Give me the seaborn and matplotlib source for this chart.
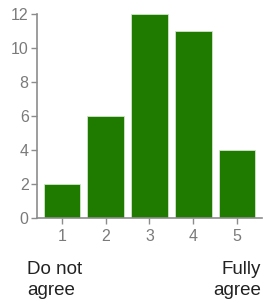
import matplotlib
matplotlib.use('Agg')
import matplotlib.pyplot as plt
import seaborn as sns
import pandas as pd

# answers on a 1-5 agreement scale
ratings = ['1', '2', '3', '4', '5']
counts = [2, 6, 12, 11, 4]
y_ticks = [0, 2, 4, 6, 8, 10, 12]
low_label = 'Do not\nagree'
high_label = 'Fully\nagree'

df = pd.DataFrame({'rating': ratings, 'count': counts})

sns.set_style('white')
plt.rcParams['font.family'] = ['Liberation Sans', 'DejaVu Sans']

fig = plt.figure(figsize=(2.64, 3.06), dpi=100)
ax = fig.add_axes([0.14, 0.288, 0.852, 0.666])

sns.barplot(data=df, x='rating', y='count', color='#1e7b00', saturation=1,
            width=0.84, edgecolor='#cfe6c8', linewidth=0.6, ax=ax)

grey = '#8c8c8c'
ax.set_ylim(0, 12)
ax.set_xlim(-0.57, 4.57)
ax.set_yticks(y_ticks)
ax.set_xlabel('')
ax.set_ylabel('')
sns.despine(ax=ax)
for side in ['left', 'bottom']:
    ax.spines[side].set_color(grey)
    ax.spines[side].set_linewidth(1.2)
ax.tick_params(axis='both', colors=grey, labelcolor='#7a7a7a', labelsize=11.5,
               length=4, width=1, direction='out', left=True, bottom=True, pad=2)
ax.tick_params(axis='x', length=4, pad=4)

fig.text(0.102, 0.036, low_label, ha='left', va='baseline', fontsize=13.5,
         color='#222222', linespacing=1.3)
fig.text(0.988, 0.036, high_label, ha='right', va='baseline', fontsize=13.5,
         color='#222222', linespacing=1.3, multialignment='right')

fig.savefig('out.png', dpi=100)
